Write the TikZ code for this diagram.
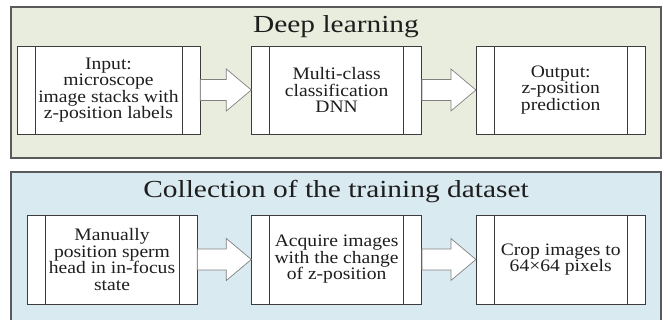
\documentclass[tikz,border=0pt]{standalone}
\usepackage{fontspec}
\setmainfont{Liberation Serif}
\newfontfamily\titlefont{Liberation Serif}[FakeStretch=1.2]
\newfontfamily\boxfont{Liberation Serif}[FakeStretch=1.12]
\usetikzlibrary{positioning}
\definecolor{dlfill}{HTML}{E9EDDD}
\definecolor{tdfill}{HTML}{DAEAF1}
\definecolor{frame}{HTML}{5A5A5A}
\definecolor{boxline}{HTML}{3C3C3C}
\definecolor{ink}{HTML}{1E1E1E}

% block arrow from one box to the next
\newcommand{\fatarrow}[2]{%
  \draw[fat] ([yshift=10.5pt]#1.east) -- ([xshift=-25pt,yshift=10.5pt]#2.west)
    -- ([xshift=-25pt,yshift=21pt]#2.west) -- (#2.west)
    -- ([xshift=-25pt,yshift=-21pt]#2.west) -- ([xshift=-25pt,yshift=-10.5pt]#2.west)
    -- ([yshift=-10.5pt]#1.east) -- cycle;}

\begin{document}
\begin{tikzpicture}[
    x=1pt, y=1pt,
    node distance=54pt,
    panel/.style={draw=frame, line width=1.1pt, minimum width=650pt, inner sep=0pt},
    heading/.style={font=\titlefont\fontsize{24.5}{24}\selectfont, text=ink, anchor=base},
    block/.style={draw=boxline, fill=white, line width=0.6pt, align=center, inner sep=0pt,
      minimum width=170pt, minimum height=88pt, text=ink, font=\boxfont\fontsize{17.5}{16.5}\selectfont,
      path picture={
        \draw[boxline, line width=0.6pt] ([xshift=18pt]path picture bounding box.north west)
          -- ([xshift=18pt]path picture bounding box.south west);
        \draw[boxline, line width=0.6pt] ([xshift=-18pt]path picture bounding box.north east)
          -- ([xshift=-18pt]path picture bounding box.south east);}},
    fat/.style={draw=gray, fill=white, line width=0.7pt, line join=miter}
  ]
    \useasboundingbox (0,0) rectangle (670,320);

    % deep learning
    \node[panel, fill=dlfill, minimum height=151pt] (dl) at (336,237.5) {};
    \node[heading] (dltitle) at ([yshift=-26pt]dl.north) {Deep learning};
    \node[block, minimum width=183pt] (input) at (108.5,230) {Input:\\microscope\\image stacks with\\z-position labels};
    \node[block, right=51pt of input] (dnn) {Multi-class\\classification\\DNN};
    \node[block, right=of dnn, minimum width=169pt] (output) {Output:\\z-position\\prediction};

    % training dataset
    \node[panel, fill=tdfill, minimum height=153pt] (td) at (336,71.5) {};
    \node[heading] (tdtitle) at ([yshift=-26pt]td.north) {Collection of the training dataset};
    \node[block, minimum height=89pt] (manual) at (112,60.5) {Manually\\position sperm\\head in in-focus\\state};
    \node[block, minimum height=89pt, right=of manual] (acquire) {Acquire images\\with the change\\of z-position};
    \node[block, minimum height=89pt, minimum width=169pt, right=of acquire] (crop) {Crop images to\\64×64 pixels};

    \fatarrow{input}{dnn}
    \fatarrow{dnn}{output}
    \fatarrow{manual}{acquire}
    \fatarrow{acquire}{crop}
\end{tikzpicture}
\end{document}
